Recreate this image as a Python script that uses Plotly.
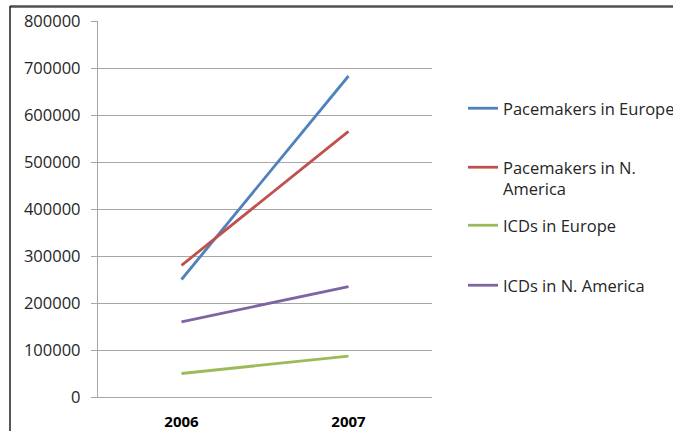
import plotly.graph_objects as go

# Implant counts by year and region
years = [2006, 2007]
series_names = [
    "Pacemakers in Europe",
    "Pacemakers in N.<br>America",
    "ICDs in Europe",
    "ICDs in N. America",
]
pacemakers_europe = [250000, 683000]
pacemakers_namerica = [280000, 565000]
icds_europe = [50000, 87000]
icds_namerica = [160000, 235000]
y_ticks = [0, 100000, 200000, 300000, 400000, 500000, 600000, 700000, 800000]

colors = ["#4F81BD", "#C0504D", "#9BBB59", "#8064A2"]
values = [pacemakers_europe, pacemakers_namerica, icds_europe, icds_namerica]

W, H = 673, 431
L, R, T, B = 98, 241, 21, 34
plot_w = W - L - R
plot_h = H - T - B


def px_x(px):
    return (px - L) / plot_w


def px_y(py):
    return (H - B - py) / plot_h


font_family = "Open Sans, Lato, sans-serif"
legend_ids = ["legend", "legend2", "legend3", "legend4"]
legend_tops = [109, 168, 226, 286]

fig = go.Figure()
for name, vals, col, lg in zip(series_names, values, colors, legend_ids):
    fig.add_trace(go.Scatter(
        x=years, y=vals, mode="lines", name=name,
        line=dict(color=col, width=2.8),
        legend=lg,
    ))

layout_legends = {}
for lg, top in zip(legend_ids, legend_tops):
    layout_legends[lg] = dict(
        x=px_x(463), y=px_y(top - 18), xanchor="left", yanchor="top",
        bgcolor="rgba(0,0,0,0)", borderwidth=0,
        font=dict(family=font_family, size=16.5, color="#262626"),
        valign="top", itemwidth=30, tracegroupgap=0,
    )

fig.update_layout(
    width=W, height=H,
    margin=dict(l=L, r=R, t=T, b=B, pad=0, autoexpand=False),
    paper_bgcolor="white", plot_bgcolor="white",
    showlegend=True,
    font=dict(family=font_family, size=16.5, color="#262626"),
    **layout_legends,
    shapes=[
        # outer chart frame
        dict(type="line", xref="paper", yref="paper",
             x0=px_x(10), x1=px_x(700), y0=px_y(6.5), y1=px_y(6.5),
             line=dict(color="#505050", width=2.5)),
        dict(type="line", xref="paper", yref="paper",
             x0=px_x(10), x1=px_x(10), y0=px_y(6), y1=px_y(440),
             line=dict(color="#202020", width=1.5)),
    ],
)

fig.update_xaxes(
    range=[2005.5, 2007.5], tickvals=years, ticktext=[str(y) for y in years],
    showgrid=False, zeroline=False, automargin=False,
    showline=True, linecolor="#A6A6A6", linewidth=1.3,
    ticks="", tickfont=dict(family=font_family, size=15, color="#000000",
                            weight="bold"),
    ticklabelstandoff=11,
)
fig.update_yaxes(
    range=[0, 800000], tickvals=y_ticks, ticktext=[str(v) for v in y_ticks],
    showgrid=True, gridcolor="#A6A6A6", gridwidth=1.3, automargin=False,
    zeroline=False, showline=True, linecolor="#A6A6A6", linewidth=1.3,
    ticks="outside", ticklen=6, tickcolor="#A6A6A6", tickwidth=1.3,
    tickfont=dict(family=font_family, size=16.5, color="#262626"),
    ticklabelstandoff=7,
)

fig.write_html("out.html")
